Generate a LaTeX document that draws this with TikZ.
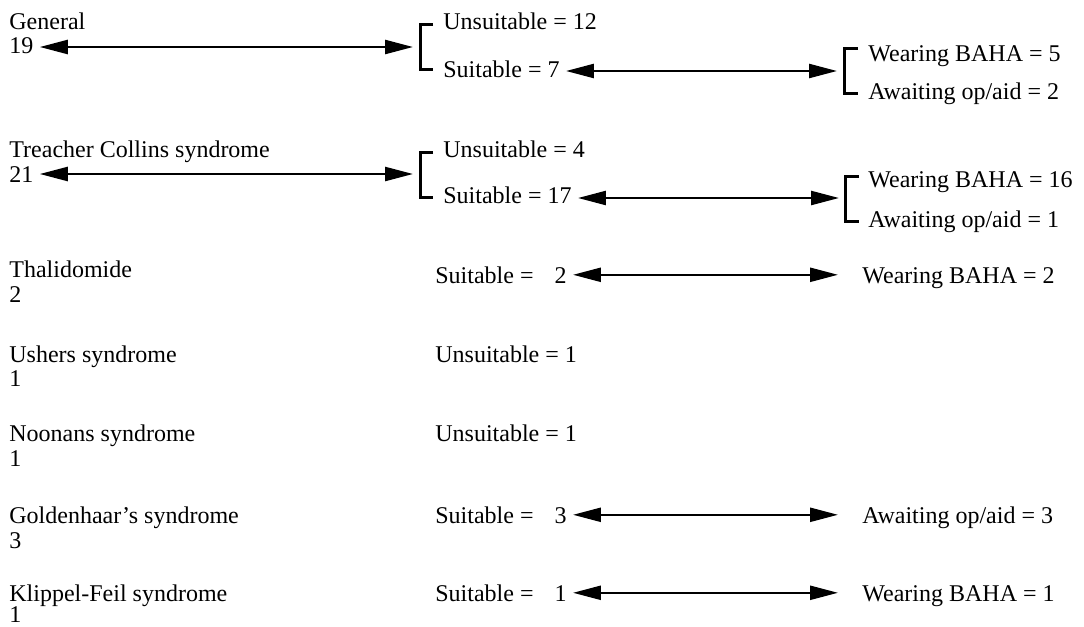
\documentclass[tikz,border=0pt]{standalone}
\usepackage{fontspec}
\setmainfont{Liberation Serif}
\usetikzlibrary{arrows.meta}

\tikzset{
  lbl/.style={anchor=base west, inner sep=3pt, font=\fontsize{12}{14}\selectfont},
  dbl/.style={{Triangle[length=14pt,width=7pt]}-{Triangle[length=14pt,width=7pt]}, line width=1.2pt},
  brack/.style={line width=1.5pt}
}

\begin{document}
\begin{tikzpicture}[x=0.5pt,y=-0.5pt]
            \useasboundingbox (0,0) rectangle (1084,627);

            % General
            \node[lbl] (gen) at (3,29) {General};
            \node[lbl] (gen-n) at (3,53) {19};
            \node[lbl] (gen-u) at (437,29) {Unsuitable = 12};
            \node[lbl] (gen-s) at (437,77) {Suitable = 7};
            \node[lbl] (gen-w) at (862,61) {Wearing BAHA = 5};
            \node[lbl] (gen-a) at (862,99) {Awaiting op/aid = 2};
            \coordinate (gen-b1) at (413,47);
            \coordinate (gen-b2) at (837,71);
            \draw[brack] (433,24) -| (420,69) -- (433,69);
            \draw[brack] (858,48) -| (844,93) -- (858,93);
            \draw[dbl] (gen-n.east |- gen-b1) -- (gen-b1);
            \draw[dbl] (gen-s.east |- gen-b2) -- (gen-b2);

            % Treacher Collins
            \node[lbl] (tcs) at (3,157) {Treacher Collins syndrome};
            \node[lbl] (tcs-n) at (3,182) {21};
            \node[lbl] (tcs-u) at (437,157) {Unsuitable = 4};
            \node[lbl] (tcs-s) at (437,203) {Suitable = 17};
            \node[lbl] (tcs-w) at (862,187) {Wearing BAHA = 16};
            \node[lbl] (tcs-a) at (862,227) {Awaiting op/aid = 1};
            \coordinate (tcs-b1) at (413,174);
            \coordinate (tcs-b2) at (839,198);
            \draw[brack] (433,152) -| (420,197) -- (433,197);
            \draw[brack] (859,176) -| (845,221) -- (859,221);
            \draw[dbl] (tcs-n.east |- tcs-b1) -- (tcs-b1);
            \draw[dbl] (tcs-s.east |- tcs-b2) -- (tcs-b2);

            % Thalidomide
            \node[lbl] (tha) at (3,277) {Thalidomide};
            \node[lbl] (tha-n) at (3,302) {2};
            \node[lbl] (tha-s) at (429,283) {Suitable =\hspace{10.5pt}2};
            \node[lbl] (tha-w) at (856,283) {Wearing BAHA = 2};
            \draw[dbl, shorten >=9pt] (tha-s.east) -- (tha-s.east -| tha-w.west);

            % Ushers
            \node[lbl] (ush) at (3,362) {Ushers syndrome};
            \node[lbl] (ush-n) at (3,386) {1};
            \node[lbl] (ush-u) at (429,362) {Unsuitable = 1};

            % Noonans
            \node[lbl] (noo) at (3,441) {Noonans syndrome};
            \node[lbl] (noo-n) at (3,466) {1};
            \node[lbl] (noo-u) at (429,441) {Unsuitable = 1};

            % Goldenhaar
            \node[lbl] (gol) at (3,523) {Goldenhaar's syndrome};
            \node[lbl] (gol-n) at (3,548) {3};
            \node[lbl] (gol-s) at (429,523) {Suitable =\hspace{10.5pt}3};
            \node[lbl] (gol-a) at (856,523) {Awaiting op/aid = 3};
            \draw[dbl, shorten >=9pt] (gol-s.east) -- (gol-s.east -| gol-a.west);

            % Klippel-Feil
            \node[lbl] (kfs) at (3,601) {Klippel-Feil syndrome};
            \node[lbl] (kfs-n) at (3,622) {1};
            \node[lbl] (kfs-s) at (429,601) {Suitable =\hspace{10.5pt}1};
            \node[lbl] (kfs-w) at (856,601) {Wearing BAHA = 1};
            \draw[dbl, shorten >=9pt] (kfs-s.east) -- (kfs-s.east -| kfs-w.west);
        \end{tikzpicture}
\end{document}
